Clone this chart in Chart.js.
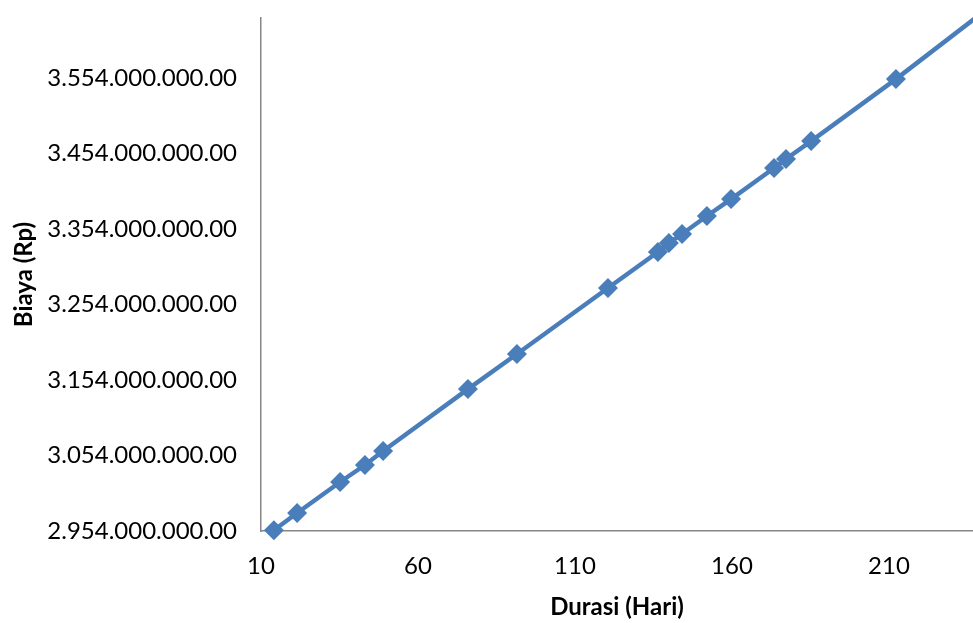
<!DOCTYPE html>
<html>
<head>
<meta charset="utf-8">
<script src="https://cdn.jsdelivr.net/npm/chart.js@4"></script>
<style>
  html, body { margin: 0; padding: 0; background: #fff; }
  #wrap { width: 973px; height: 623px; }
</style>
</head>
<body>
<div id="wrap"><canvas id="biayaChart"></canvas></div>
<script>
// data (durasi in hari, biaya in rupiah)
const durasi = [14.1, 21.5, 35.2, 43.1, 48.9, 75.9, 91.5, 120.5, 136.4, 139.9, 144.1, 152.0, 159.7, 173.4, 177.2, 185.2, 212.2, 241.0];
const biaya  = [2955.0e6, 2977.8e6, 3018.9e6, 3041.4e6, 3060.0e6, 3142.0e6, 3188.4e6, 3275.9e6, 3323.5e6, 3335.5e6, 3347.4e6, 3371.2e6, 3393.7e6, 3434.8e6, 3446.7e6, 3470.5e6, 3552.6e6, 3644.5e6];

const xTicks = [10, 60, 110, 160, 210];
const yTicks = [2954e6, 3054e6, 3154e6, 3254e6, 3354e6, 3454e6, 3554e6];

const FONT = 'Lato, "Open Sans", sans-serif';
const BLUE = '#4A7EBB';
const AXIS_GREY = '#868686';

function formatRp(v) {
    // 3554000000 -> 3.554.000.000.00
    let s = Math.round(v).toString();
    s = s.replace(/\B(?=(\d{3})+(?!\d))/g, '.');
    return s + '.00';
}

let points = durasi.map((d, i) => ({ x: d, y: biaya[i] }));

let ctx = document.getElementById('biayaChart');
let chart = new Chart(ctx, {
    type: 'line',
    data: {
        datasets: [{
            label: 'Biaya',
            data: points,
            borderColor: BLUE,
            backgroundColor: BLUE,
            borderWidth: 4.5,
            pointStyle: 'rectRot',
            pointRadius: 10,
            pointBorderWidth: 0,
            pointBackgroundColor: BLUE,
            tension: 0,
            clip: { left: 12, bottom: 12, top: 3, right: 0 },
        }]
    },
    options: {
        responsive: true,
        maintainAspectRatio: false,
        animation: false,
        layout: {
            autoPadding: false,
            padding: { top: 18, right: 0, left: 0, bottom: 0 }
        },
        scales: {
            x: {
                type: 'linear',
                min: 10,
                max: 236.75,
                afterBuildTicks: function(scale) {
                    scale.ticks = xTicks.map(v => ({ value: v }));
                },
                afterFit: function(scale) {
                    scale.height = 92;
                    scale.paddingLeft = 0;
                    scale.paddingRight = 0;
                },
                grid: { display: false, drawTicks: false },
                border: { display: true, color: AXIS_GREY, width: 1.5 },
                ticks: {
                    color: '#000',
                    font: { family: FONT, size: 24 },
                    padding: 21,
                    maxRotation: 0,
                    autoSkip: false,
                },
                title: {
                    display: true,
                    text: 'Durasi (Hari)',
                    color: '#000',
                    font: { family: FONT, size: 24, weight: 'bold' },
                    padding: { top: 0, bottom: 1 },
                }
            },
            y: {
                type: 'linear',
                min: 2954e6,
                max: 3633.5e6,
                afterBuildTicks: function(scale) {
                    scale.ticks = yTicks.map(v => ({ value: v }));
                },
                afterFit: function(scale) {
                    scale.width = 261;
                    scale.paddingTop = 0;
                    scale.paddingBottom = 0;
                },
                grid: { display: false, drawTicks: false },
                border: { display: true, color: AXIS_GREY, width: 1.5 },
                ticks: {
                    color: '#000',
                    font: { family: FONT, size: 24 },
                    padding: 24,
                    autoSkip: false,
                    callback: function(value) { return formatRp(value); }
                },
                title: {
                    display: true,
                    text: 'Biaya (Rp)',
                    color: '#000',
                    font: { family: FONT, size: 24, weight: 'bold' },
                    padding: { top: 10, bottom: 0 },
                }
            }
        },
        plugins: {
            legend: { display: false },
            tooltip: { enabled: false },
            title: { display: false },
        }
    }
});
</script>
</body>
</html>
